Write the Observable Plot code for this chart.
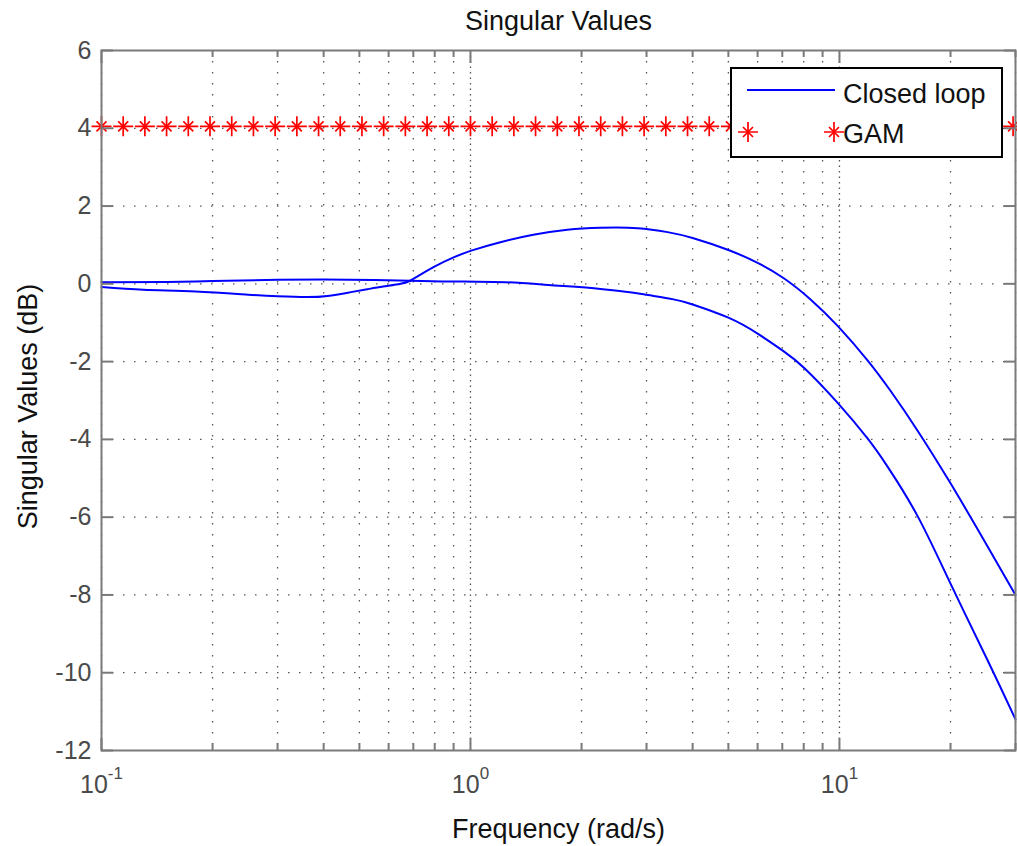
<!DOCTYPE html>
<html><head><meta charset="utf-8">
<script src="https://cdn.jsdelivr.net/npm/d3@7"></script>
<script src="https://cdn.jsdelivr.net/npm/@observablehq/plot@0.6"></script>
<style>
html,body{margin:0;padding:0;background:#fff;}
#wrap{position:relative;width:1017px;height:846px;font-family:"Liberation Sans",Arial,sans-serif;}
#legend{position:absolute;left:730px;top:67px;width:273px;height:91px;box-sizing:border-box;border:2px solid #000;background:#fff;}
#legend svg{position:absolute;left:0;top:0;}
</style></head><body><div id="wrap"></div>
<script>
// ---- data ----
// Closed loop, upper singular value (two pieces meeting where the curves touch, ~0.687 rad/s)
const upperFreq = [0.1, 0.15, 0.2, 0.28, 0.4, 0.55, 0.687, 0.794, 0.9, 1.01, 1.205, 1.48, 1.83, 2.25, 2.84, 3.42, 4.0, 5.0, 6.0, 7.05, 8.35, 9.93, 11.9, 13.75, 16.27, 20, 24.6, 30];
const upperDb   = [0.04, 0.05, 0.07, 0.10, 0.11, 0.10, 0.08, 0.43, 0.68, 0.86, 1.07, 1.26, 1.39, 1.44, 1.43, 1.33, 1.18, 0.87, 0.54, 0.15, -0.40, -1.10, -1.96, -2.75, -3.77, -5.13, -6.58, -8.0];
// Closed loop, lower singular value
const lowerFreq = [0.1, 0.13, 0.18, 0.25, 0.3, 0.36, 0.41, 0.47, 0.525, 0.58, 0.647, 0.687, 0.885, 1.245, 1.626, 2.25, 2.77, 3.03, 3.55, 4.0, 5.0, 6.0, 7.05, 8.04, 9.93, 11.9, 13.5, 16.3, 20, 25.2, 30];
const lowerDb   = [-0.08, -0.15, -0.2, -0.28, -0.32, -0.34, -0.31, -0.22, -0.14, -0.07, 0.0, 0.08, 0.06, 0.04, -0.03, -0.13, -0.23, -0.29, -0.40, -0.53, -0.87, -1.28, -1.73, -2.17, -3.08, -3.97, -4.70, -5.98, -7.71, -9.68, -11.2];
const touchFreq = 0.687;
// GAM bound
const gamFreq = [0.1, 0.1145, 0.1311, 0.1501, 0.1719, 0.1968, 0.2254, 0.2581, 0.2955, 0.3384, 0.3875, 0.4437, 0.508, 0.5817, 0.6661, 0.7627, 0.8733,
  1.0, 1.145, 1.311, 1.501, 1.719, 1.968, 2.254, 2.581, 2.955, 3.384, 3.875, 4.437, 5.08, 5.817, 6.661, 7.627, 8.733,
  10, 11.45, 13.11, 15.01, 17.19, 19.68, 22.54, 25.81, 29.55];
const gamDb = 4.05;
const xMajorTicks = [0.1, 1, 10];
const xMinorTicks = [0.2, 0.3, 0.4, 0.5, 0.6, 0.7, 0.8, 0.9, 2, 3, 4, 5, 6, 7, 8, 9, 20, 30];
const yTicks = [-12, -10, -8, -6, -4, -2, 0, 2, 4, 6];
const titleText = "Singular Values";
const xLabel = "Frequency (rad/s)";
const yLabel = "Singular Values (dB)";
const legendLabels = ["Closed loop", "GAM"];

// split each series into two pieces at the touch point (shared point in both pieces)
function pieces(freqs, dbs, name) {
  const rows = [];
  freqs.forEach((f, i) => {
    if (f <= touchFreq) rows.push({f, db: dbs[i], seg: name + "a"});
    if (f >= touchFreq) rows.push({f, db: dbs[i], seg: name + "b"});
  });
  return rows;
}
const closedLoop = [...pieces(upperFreq, upperDb, "u"), ...pieces(lowerFreq, lowerDb, "l")];
const gam = gamFreq.map(f => ({f, db: gamDb}));

const tickColor = "#7a7a7a";
const labelColor = "#4a4a4a";
const gridStyle = {stroke: "#555", strokeOpacity: 1, strokeWidth: 1.3, strokeDasharray: "1.5,9.5"};

const chart = Plot.plot({
  width: 1017, height: 846,
  marginLeft: 101, marginRight: 2, marginTop: 50, marginBottom: 96,
  style: {fontFamily: '"Liberation Sans", Arial, sans-serif', background: "#fff", color: labelColor},
  x: {type: "log", domain: [0.1, 30]},
  y: {domain: [-12, 6]},
  marks: [
    Plot.gridX({ticks: [...xMajorTicks, ...xMinorTicks], ...gridStyle}),
    Plot.gridX({ticks: [1, 10], ...gridStyle, strokeDashoffset: 5.5}),
    Plot.gridY({ticks: yTicks.filter(d => d > -12 && d < 6), ...gridStyle}),
    Plot.line(closedLoop, {x: "f", y: "db", z: "seg", stroke: "#0000ff", strokeWidth: 2, curve: "natural"}),
    Plot.dot(gam, {x: "f", y: "db", symbol: "plus", r: 6.5, stroke: "#ff0000", strokeWidth: 1.7}),
    Plot.dot(gam, {x: "f", y: "db", symbol: "times", r: 4.6, stroke: "#ff0000", strokeWidth: 1.7}),
    Plot.frame({stroke: tickColor, strokeWidth: 2}),
    Plot.axisX({ticks: xMajorTicks, anchor: "bottom", tickSize: -12, tickPadding: 37, stroke: tickColor, strokeWidth: 2, fill: labelColor, fontSize: 25, label: null, tickFormat: d => "10^" + Math.round(Math.log10(d))}),
    Plot.axisX({ticks: xMinorTicks, anchor: "bottom", tickSize: -7, stroke: tickColor, strokeWidth: 2, label: null, tickFormat: () => ""}),
    Plot.axisX({ticks: xMajorTicks, anchor: "top", tickSize: -12, stroke: tickColor, strokeWidth: 2, label: null, tickFormat: () => ""}),
    Plot.axisX({ticks: xMinorTicks, anchor: "top", tickSize: -6, stroke: tickColor, strokeWidth: 2, label: null, tickFormat: () => ""}),
    Plot.axisY({ticks: yTicks, anchor: "left", tickSize: -12, tickPadding: 22, stroke: tickColor, strokeWidth: 2, fill: labelColor, fontSize: 25, label: null, tickFormat: d => String(d)}),
    Plot.axisY({ticks: yTicks, anchor: "right", tickSize: -12, stroke: tickColor, strokeWidth: 2, label: null, tickFormat: () => ""}),
    Plot.text([titleText], {frameAnchor: "top", lineAnchor: "middle", dy: -29, fontSize: 27, fill: "#111"}),
    Plot.text([xLabel], {frameAnchor: "bottom", lineAnchor: "middle", dy: 79, fontSize: 27, fill: "#111"}),
    Plot.text([yLabel], {frameAnchor: "left", textAnchor: "middle", lineAnchor: "middle", dx: -73, dy: 6, rotate: -90, fontSize: 27, fill: "#111"})
  ]
});

// superscript exponents on decade tick labels
d3.select(chart).selectAll("text").each(function() {
  const t = this.textContent;
  const m = /^10\^(-?\d+)$/.exec(t);
  if (!m) return;
  const sel = d3.select(this);
  sel.text(null);
  sel.append("tspan").text("10");
  sel.append("tspan").attr("dy", "-0.85em").attr("font-size", "17px").text(m[1]);
});

const wrap = document.getElementById("wrap");
wrap.appendChild(chart);

// legend box (top-right corner, as in the reference)
const lg = document.createElement("div");
lg.id = "legend";
const ls = d3.create("svg").attr("width", 269).attr("height", 87)
  .style("font-family", '"Liberation Sans", Arial, sans-serif');
ls.append("line").attr("x1", 15).attr("x2", 103).attr("y1", 21).attr("y2", 21).attr("stroke", "#0000ff").attr("stroke-width", 2);
ls.append("text").attr("x", 111).attr("y", 34).attr("font-size", 27).attr("fill", "#111").text(legendLabels[0]);
const star = (cx, cy) => {
  const g = ls.append("g").attr("stroke", "#ff0000").attr("stroke-width", 1.7).attr("fill", "none");
  g.append("path").attr("d", `M${cx-10},${cy}H${cx+10}M${cx},${cy-10}V${cy+10}`);
  g.append("path").attr("d", `M${cx-5},${cy-5}L${cx+5},${cy+5}M${cx-5},${cy+5}L${cx+5},${cy-5}`);
};
star(16, 63);
star(102, 63);
ls.append("text").attr("x", 111).attr("y", 74).attr("font-size", 27).attr("fill", "#111").text(legendLabels[1]);
lg.appendChild(ls.node());
wrap.appendChild(lg);
</script></body></html>
